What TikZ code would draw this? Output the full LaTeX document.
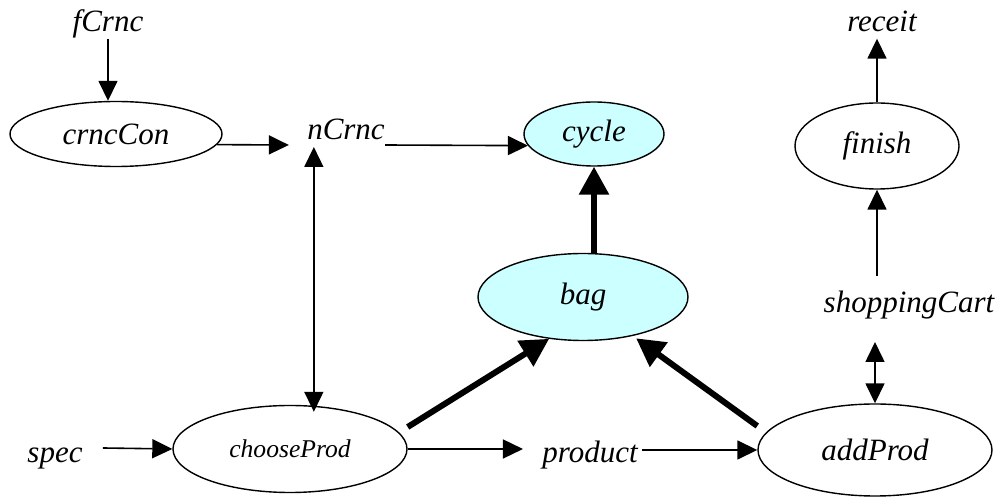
\documentclass[tikz,border=0pt]{standalone}
\usepackage{fontspec}
\setmainfont{Liberation Serif}
\usepackage{xcolor}
\usepackage{tikz}
\usetikzlibrary{arrows.meta,shapes.geometric}
\definecolor{storecyan}{HTML}{CCFFFF}

\begin{document}
\begin{tikzpicture}[x=0.5pt, y=-0.5pt, >={Triangle[length=10pt,width=9.5pt]},
  proc/.style={draw, ellipse, line width=0.7pt, inner sep=0pt,
    font=\fontsize{15.5}{18}\selectfont\itshape},
  store/.style={proc, fill=storecyan},
  dat/.style={inner sep=0pt, anchor=base, font=\fontsize{15.5}{18}\selectfont\itshape},
  flow/.style={->, line width=0.8pt},
  heavy/.style={-{Triangle[length=14pt,width=14.5pt]}, line width=3pt}]
\useasboundingbox (0,0) rectangle (998,497);

% processes and stores
\node[proc, minimum width=106pt, minimum height=32.5pt] (crncCon) at (116,134) {crncCon\hspace{13pt}};
\node[store, minimum width=70pt, minimum height=32pt] (cycle) at (594,134) {cycle};
\node[store, minimum width=105pt, minimum height=43.5pt] (bag) at (583,297) {bag};
\node[proc, minimum width=82pt, minimum height=43pt] (finish) at (877,146) {finish};
\node[proc, minimum width=117pt, minimum height=43.5pt, font=\fontsize{12.8}{15}\selectfont\itshape]
  (chooseProd) at (290,449) {chooseProd\hspace{6pt}};
\node[proc, minimum width=117pt, minimum height=46pt] (addProd) at (875,450) {addProd\hspace{15pt}};

% data flows
\node[dat] (fCrnc) at (108,32) {fCrnc};
\node[dat] (nCrnc) at (346,140) {nCrnc};
\node[dat] (receit) at (882,32) {receit};
\node[dat] (shoppingCart) at (909,313) {shoppingCart};
\node[dat] (spec) at (55,463) {spec};
\node[dat] (product) at (590,463) {product};

\draw[flow] (fCrnc.south) -- (fCrnc.south |- crncCon.north);
\draw[flow] (crncCon.-6) -- ([xshift=-9pt,yshift=-2.5pt]nCrnc.base west);
\draw[flow] ([yshift=-2.5pt]nCrnc.base east) -- (cycle.190);
\draw[flow,<->] ([xshift=3.5pt,yshift=-3.5pt]nCrnc.base west)
  -- ([xshift=3.5pt,yshift=-3.5pt]nCrnc.base west |- chooseProd.north);
\draw[flow] ([xshift=10pt]spec.north east) -- (chooseProd.west);
\draw[flow] (chooseProd.east) -- ([xshift=-9.5pt]chooseProd.east -| product.west);
\draw[flow] ([xshift=2pt]product.east |- addProd.west) -- (addProd.west);
\draw[flow,<->] ([yshift=-11pt]addProd.north |- shoppingCart.south) -- (addProd.north);
\draw[flow] ([yshift=7.5pt]finish.south |- shoppingCart.north) -- (finish.south);
\draw[flow,shorten >=3pt] (finish.north) -- (finish.north |- receit.south);

\draw[heavy] ([yshift=11pt]chooseProd.east) -- (bag.231);
\draw[heavy,shorten >=2pt] ([yshift=12pt]addProd.west) -- (bag.322);
\draw[heavy] (bag.north -| cycle.south) -- (cycle.south);
\end{tikzpicture}
\end{document}
